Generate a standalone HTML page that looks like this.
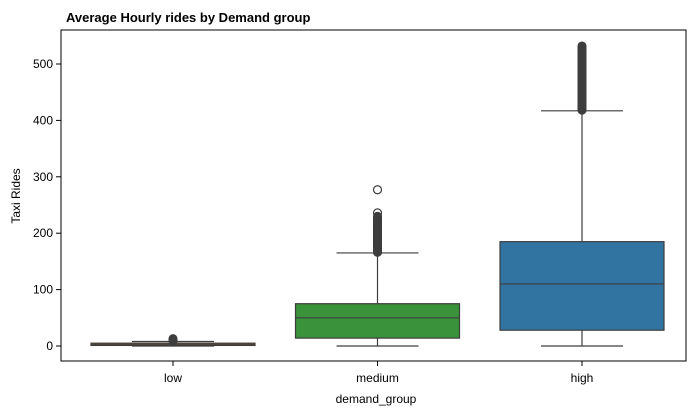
<!DOCTYPE html>
<html><head><meta charset="utf-8"><style>
body{margin:0;background:#fff;font-family:"Liberation Sans",sans-serif}
</style></head><body>
<svg id="c" width="695" height="414" xmlns="http://www.w3.org/2000/svg">
<text x="66" y="22" font-size="13" font-weight="bold" fill="#000">Average Hourly rides by Demand group</text>
<rect x="61" y="30" width="625" height="331" fill="none" stroke="#000" stroke-width="1"/>
<g id="marks"></g>
<g id="axes"></g>
<text x="376" y="403" font-size="12" text-anchor="middle">demand_group</text>
<text x="20" y="196" font-size="12" text-anchor="middle" transform="rotate(-90 20 196)">Taxi Rides</text>
</svg>
<script>
const categories=["low","medium","high"];
const q1=[1,14,28];
const median=[3,50,110];
const q3=[5,75,185];
const whiskLo=[0,0,0];
const whiskHi=[8,165,417];
const outLo=[9,166,418];
const outHi=[13,230,532];
const extraOutliers=[[],[236,277],[]];
const colors=["#e1812c","#3a923a","#3274a1"];
const yTicks=[0,100,200,300,400,500];
const NS="http://www.w3.org/2000/svg";
const y=v=>346-v*0.564;
const x=i=>173+i*204.5;
const bw=164;
const marks=document.getElementById('marks'),axes=document.getElementById('axes');
function mk(tag,at,p){const e=document.createElementNS(NS,tag);for(const k in at)e.setAttribute(k,at[k]);p.appendChild(e);return e;}
categories.forEach((c,i)=>{
 const cx=x(i);
 let e=mk('line',{x1:cx,x2:cx,y1:y(whiskLo[i]),y2:y(q1[i]),stroke:'#3d3d3d','stroke-width':1.2},marks);
 
 e=mk('line',{x1:cx,x2:cx,y1:y(q3[i]),y2:y(whiskHi[i]),stroke:'#3d3d3d','stroke-width':1.2},marks);
 
 [whiskLo[i],whiskHi[i]].forEach((v,j)=>{
  const l=mk('line',{x1:cx-bw/4,x2:cx+bw/4,y1:y(v),y2:y(v),stroke:'#3d3d3d','stroke-width':1.2},marks);
  
 });
 e=mk('rect',{x:cx-bw/2,y:y(q3[i]),width:bw,height:Math.max(1,y(q1[i])-y(q3[i])),fill:colors[i],stroke:'#3d3d3d','stroke-width':1.2},marks);
 
 e=mk('line',{x1:cx-bw/2,x2:cx+bw/2,y1:y(median[i]),y2:y(median[i]),stroke:'#3d3d3d','stroke-width':1.2},marks);
 
 e=mk('rect',{x:cx-4.5,y:y(outHi[i])-4.5,width:9,height:y(outLo[i])-y(outHi[i])+9,rx:4.5,fill:'#3d3d3d'},marks);
 
 extraOutliers[i].forEach(v=>{
  const o=mk('circle',{cx:cx,cy:y(v),r:4,fill:'none',stroke:'#3d3d3d','stroke-width':1.2},marks);
  
 });
 const t=mk('line',{x1:cx,x2:cx,y1:361,y2:366,stroke:'#000'},axes);
 
 const tl=mk('text',{x:cx,y:382,'font-size':12,'text-anchor':'middle'},axes);tl.textContent=c;
 
});
yTicks.forEach(v=>{
 const t=mk('line',{x1:56,x2:61,y1:y(v),y2:y(v),stroke:'#000'},axes);
 
 const tl=mk('text',{x:53,y:y(v)+4,'font-size':12,'text-anchor':'end'},axes);tl.textContent=v;
 
});
</script>
</body></html>
